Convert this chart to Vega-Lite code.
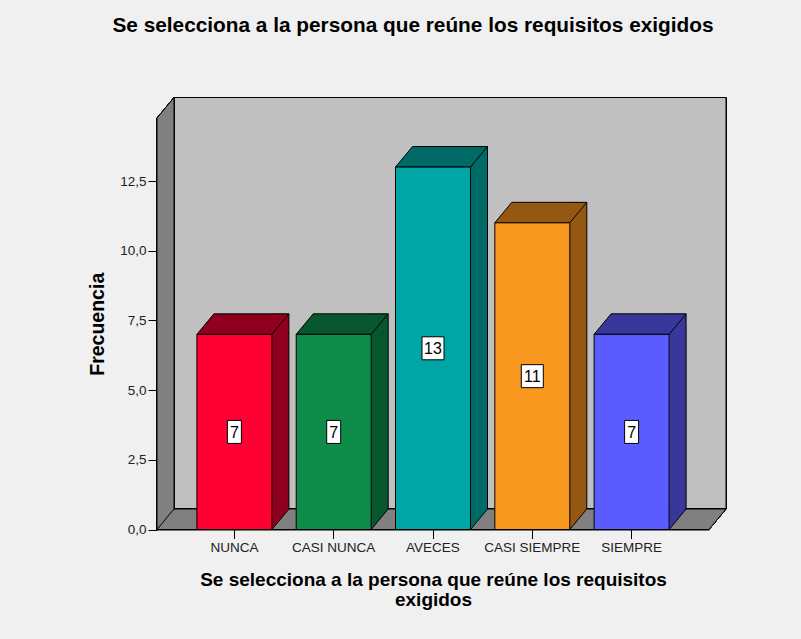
{
  "$schema": "https://vega.github.io/schema/vega-lite/v6.json",
  "width": 552,
  "height": 411.5,
  "autosize": {"type": "none"},
  "padding": {"left": 157, "top": 118, "right": 92, "bottom": 109.5},
  "background": "#f0f0f0",
  "title": {
    "text": "Se selecciona a la persona que reúne los requisitos exigidos",
    "font": "Liberation Sans",
    "fontSize": 20.8,
    "fontWeight": "bold",
    "color": "#000000",
    "anchor": "middle",
    "frame": "group",
    "dx": -20,
    "baseline": "alphabetic",
    "offset": 43
  },
  "config": {
    "view": {"stroke": null},
    "axis": {
      "domainColor": "#000000",
      "domainWidth": 1,
      "tickColor": "#000000",
      "tickSize": 9,
      "labelPadding": 2,
      "grid": false,
      "labelFont": "Liberation Sans",
      "labelFontSize": 13.5,
      "labelColor": "#222222",
      "titleFont": "Liberation Sans",
      "titleFontSize": 19.5,
      "titleFontWeight": "bold",
      "titleColor": "#000000"
    }
  },
  "data": {
    "values": [
      {"cat": "NUNCA", "value": 7},
      {"cat": "CASI NUNCA", "value": 7},
      {"cat": "AVECES", "value": 13},
      {"cat": "CASI SIEMPRE", "value": 11},
      {"cat": "SIEMPRE", "value": 7}
    ]
  },
  "encoding": {
    "x": {
      "field": "cat",
      "type": "nominal",
      "sort": ["NUNCA", "CASI NUNCA", "AVECES", "CASI SIEMPRE", "SIEMPRE"],
      "scale": {"paddingInner": 0.245, "paddingOuter": 0.402},
      "axis": {
        "labelAngle": 0,
        "title": ["Se selecciona a la persona que reúne los requisitos", "exigidos"],
        "titleFontSize": 19,
        "titleBaseline": "alphabetic",
        "titleY": 56,
        "titleLineHeight": 19.5
      }
    }
  },
  "layer": [
    {
      "encoding": {
        "y": {
          "field": "value",
          "type": "quantitative",
          "scale": {"domain": [0, 14.76], "nice": false},
          "axis": {
            "values": [0, 2.5, 5, 7.5, 10, 12.5],
            "labelExpr": "replace(format(datum.value, '.1f'), '.', ',')",
            "title": "Frecuencia",
            "titleBaseline": "alphabetic",
            "titleAngle": 270,
            "titleAlign": "center",
            "titleX": -54,
            "titleY": 205.75
          }
        }
      },
      "layer": [
        {
          "mark": {"type": "point", "filled": true, "opacity": 1, "size": 4, "fill": "#c0c0c0", "stroke": "#000000", "strokeWidth": 1,
                   "shape": "M 17 -20.5 L 17 -432 L 569 -432 L 569 -20.5 Z"},
          "encoding": {"x": {"value": 0}, "y": {"datum": 0}}
        },
        {
          "mark": {"type": "point", "filled": true, "opacity": 1, "size": 4, "fill": "#808080", "stroke": "#000000", "strokeWidth": 1,
                   "shape": "M 0 0 L 0 -411.5 L 17 -432 L 17 -20.5 L 569 -20.5 L 552 0 Z M 0 0 L 17 -20.5"},
          "encoding": {"x": {"value": 0}, "y": {"datum": 0}}
        },
        {
          "mark": {"type": "bar", "width": 17, "xOffset": 46, "yOffset": -20.5, "y2Offset": -20.5},
          "encoding": {
            "y2": {"datum": 0},
            "fill": {"field": "cat", "type": "nominal", "scale": {"domain": ["NUNCA", "CASI NUNCA", "AVECES", "CASI SIEMPRE", "SIEMPRE"], "range": ["#8f001f", "#07562d", "#006a67", "#955812", "#38389c"]}, "legend": null}
          }
        },
        {
          "mark": {"type": "point", "filled": true, "opacity": 1, "size": 4, "strokeWidth": 0,
                   "shape": "M 37.5 0 L 37.5 -20.5 L 54.5 -20.5 Z"},
          "encoding": {
            "y": {"datum": 0},
            "fill": {"field": "cat", "type": "nominal", "legend": null}
          }
        },
        {
          "mark": {"type": "point", "filled": false, "opacity": 1, "size": 4, "stroke": "#000000", "strokeWidth": 1,
                   "shape": "M 37.5 0 L 54.5 -20.5"},
          "encoding": {"y": {"datum": 0}}
        },
        {
          "mark": {"type": "rule", "color": "#000000", "strokeWidth": 1, "xOffset": 54.5, "yOffset": -20.5, "y2Offset": -20.5},
          "encoding": {"y2": {"datum": 0}}
        },
        {
          "mark": {"type": "point", "filled": true, "opacity": 1, "size": 4, "stroke": "#000000", "strokeWidth": 1,
                   "shape": "M -37.5 0 L -20.5 -20.5 L 54.5 -20.5 L 37.5 0 Z"},
          "encoding": {
            "fill": {"field": "cat", "type": "nominal", "legend": null}
          }
        },
        {
          "mark": {"type": "bar", "stroke": "#000000", "strokeWidth": 1},
          "encoding": {
            "color": {"field": "cat", "type": "nominal", "scale": {"domain": ["NUNCA", "CASI NUNCA", "AVECES", "CASI SIEMPRE", "SIEMPRE"], "range": ["#ff0033", "#0f8c4a", "#00a6a6", "#f8981f", "#5b5cff"]}, "legend": null}
          }
        }
      ]
    },
    {
      "encoding": {
        "y": {
          "field": "value",
          "type": "quantitative",
          "scale": {"domain": [0, 29.52], "nice": false},
          "axis": null
        }
      },
      "layer": [
        {
          "mark": {"type": "point", "filled": true, "opacity": 1, "size": 4, "fill": "#ffffff", "stroke": "#000000", "strokeWidth": 1},
          "encoding": {
            "shape": {
              "condition": {"test": "datum.value >= 10", "value": "M -11 -11.5 L 11 -11.5 L 11 11.5 L -11 11.5 Z"},
              "value": "M -7 -11.5 L 7 -11.5 L 7 11.5 L -7 11.5 Z"
            }
          }
        },
        {
          "mark": {"type": "text", "font": "Liberation Sans", "fontSize": 16, "color": "#000000", "align": "center", "baseline": "middle", "dy": 1},
          "encoding": {"text": {"field": "value", "type": "quantitative"}}
        }
      ]
    }
  ],
  "resolve": {"scale": {"y": "independent"}}
}
